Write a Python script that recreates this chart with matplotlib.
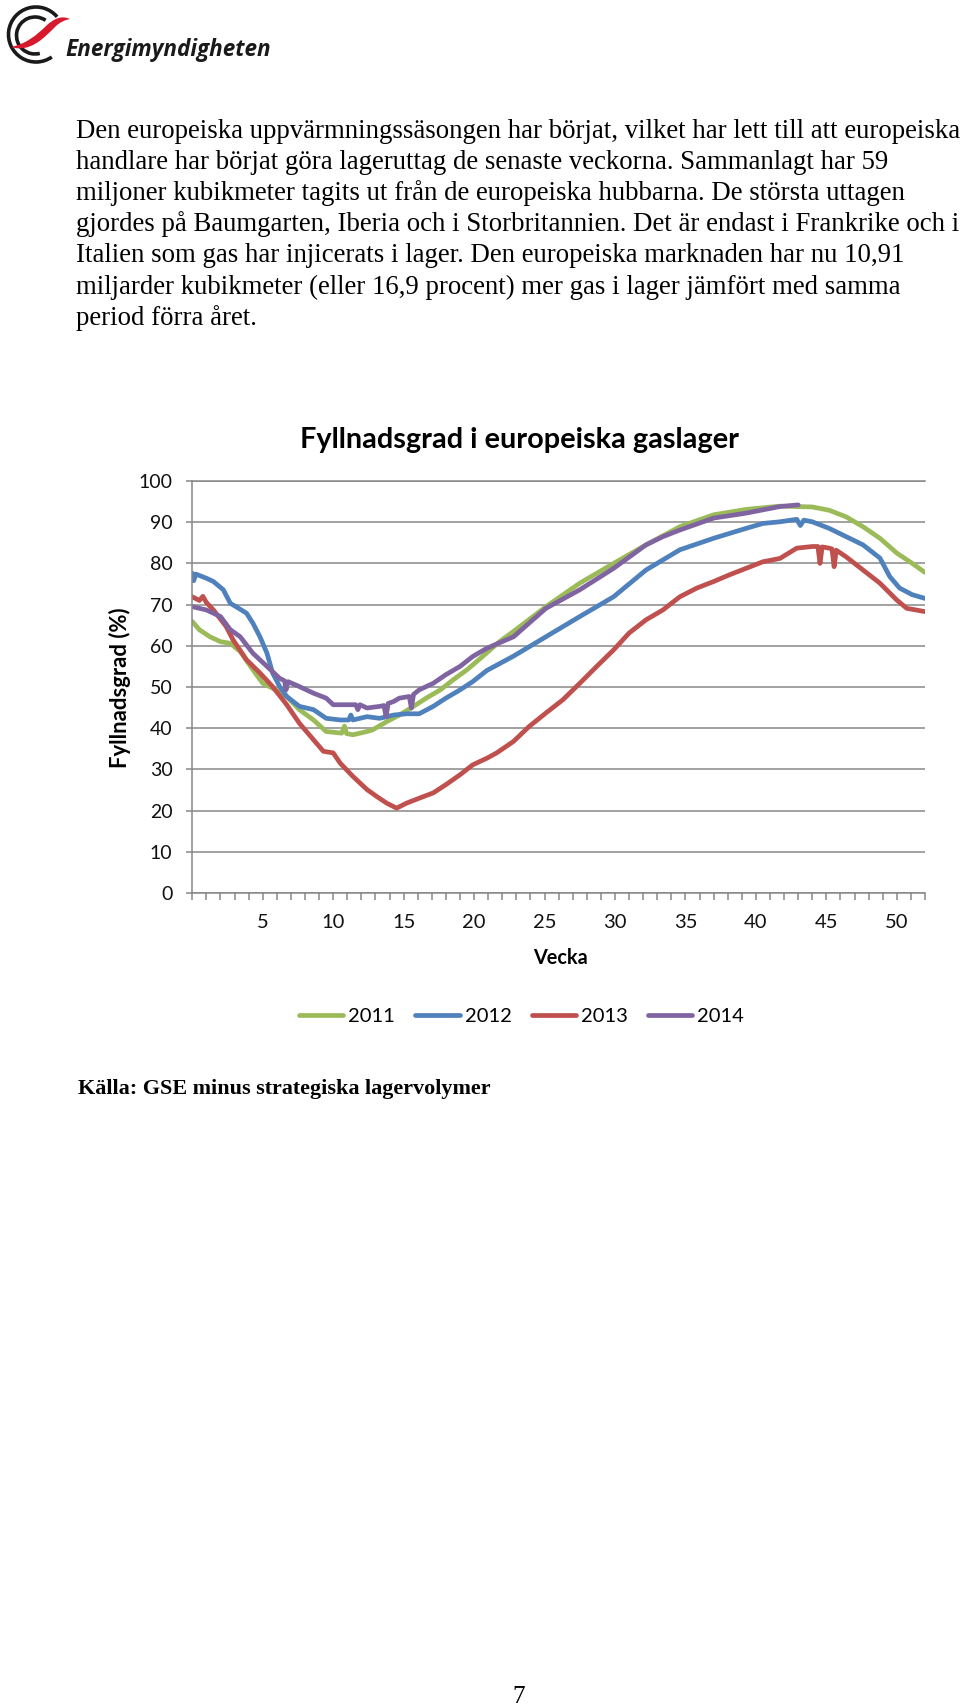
import numpy as np
import matplotlib as mpl
mpl.use('Agg')
from matplotlib import pyplot as plt
from matplotlib.path import Path
from matplotlib.patches import Arc, PathPatch

# --- data (week, fill level %) ---
w2011 = [0, 0.5, 1.25, 2.0, 2.7, 3.4, 4.3, 5.0, 5.7, 6.7, 7.6, 8.6, 9.5, 10.6, 10.8, 10.95, 11.4,
         12.4, 12.8, 13.8, 14.7, 15.7, 16.6, 17.6, 18.5, 19.5, 20.6, 21.8, 22.8, 25.1, 27.5, 29.9,
         32.2, 34.6, 37.0, 39.3, 41.7, 44.0, 45.2, 46.4, 47.6, 48.8, 50.0, 51.1, 52.0]
v2011 = [65.9, 63.9, 62.2, 61.0, 60.6, 58.6, 54.2, 50.9, 49.7, 47.7, 44.5, 42.0, 39.2, 38.8, 40.5, 38.7, 38.4,
         39.2, 39.6, 41.6, 43.2, 45.3, 47.3, 49.3, 51.7, 54.2, 57.4, 61.0, 63.5, 69.5, 75.2, 80.0,
         84.5, 88.9, 91.8, 93.1, 93.9, 93.7, 92.9, 91.3, 88.9, 86.1, 82.5, 80.0, 77.8]

w2012 = [0, 0.1, 0.25, 1.0, 1.5, 2.2, 2.7, 3.1, 3.85, 4.3, 4.8, 5.3, 5.7, 6.2, 6.7, 7.6, 8.6, 9.5,
         10.5, 11.1, 11.25, 11.4, 12.4, 13.3, 14.3, 15.2, 16.1, 17.1, 18.0, 19.0, 19.9, 20.9, 22.8,
         25.1, 27.5, 29.9, 32.2, 34.6, 37.0, 39.3, 40.5, 41.7, 42.9, 43.15, 43.4, 44.0, 45.2, 46.4,
         47.6, 48.8, 49.5, 50.2, 51.1, 52.0]
v2012 = [77.6, 75.8, 77.4, 76.4, 75.6, 73.6, 70.3, 69.5, 67.9, 65.5, 62.2, 58.2, 53.4, 50.1, 47.7, 45.3, 44.5, 42.4,
         42.0, 42.0, 43.2, 42.0, 42.8, 42.4, 43.2, 43.5, 43.5, 45.3, 47.3, 49.3, 51.3, 54.0, 57.5,
         62.2, 67.1, 71.9, 78.4, 83.3, 86.1, 88.5, 89.7, 90.1, 90.7, 89.2, 90.5, 90.1, 88.5, 86.5,
         84.5, 81.3, 76.8, 74.0, 72.4, 71.5]

w2013 = [0, 0.5, 0.75, 1.0, 1.5, 2.4, 2.9, 3.85, 4.8, 5.7, 6.7, 7.6, 8.6, 9.3, 10.0, 10.5, 11.4,
         12.4, 13.1, 13.8, 14.5, 15.2, 16.1, 17.1, 18.0, 19.0, 19.9, 20.9, 21.6, 22.8, 23.9, 25.1,
         26.3, 27.5, 28.7, 29.9, 31.0, 32.2, 33.4, 34.6, 35.8, 37.0, 38.1, 39.3, 40.5, 41.7, 42.9,
         44.0, 44.4, 44.55, 44.7, 45.2, 45.4, 45.55, 45.7, 46.4, 47.6, 48.8, 50.0, 50.7, 52.0]
v2013 = [71.9, 71.0, 72.0, 70.5, 68.7, 64.7, 61.4, 56.6, 53.4, 50.1, 45.7, 41.2, 37.2, 34.4, 34.0, 31.5, 28.3,
         25.1, 23.4, 21.8, 20.6, 21.8, 23.0, 24.3, 26.3, 28.7, 31.1, 32.7, 34.0, 36.8, 40.4, 43.7,
         46.9, 50.9, 55.0, 59.0, 63.1, 66.3, 68.7, 71.9, 74.0, 75.6, 77.2, 78.8, 80.4, 81.2, 83.7,
         84.1, 84.1, 80.0, 84.0, 83.7, 83.5, 79.2, 83.2, 81.6, 78.4, 75.2, 71.1, 69.1, 68.3]

w2014 = [0, 1.0, 2.0, 2.7, 3.4, 4.3, 5.3, 6.2, 6.55, 6.65, 6.8, 7.6, 8.6, 9.5, 10.0, 10.9, 11.6,
         11.75, 11.9, 12.4, 13.3, 13.6, 13.75, 13.9, 14.3, 14.7, 15.4, 15.55, 15.7, 16.1, 17.1, 18.0,
         19.0, 19.9, 20.9, 22.8, 23.9, 25.1, 27.5, 29.9, 32.2, 33.4, 34.6, 37.0, 39.3, 41.7, 43.0]
v2014 = [69.5, 68.7, 67.1, 63.9, 62.2, 58.2, 55.0, 52.1, 51.5, 49.3, 51.3, 50.1, 48.5, 47.3, 45.7, 45.7, 45.7,
         44.5, 45.7, 44.9, 45.3, 45.5, 42.8, 46.0, 46.5, 47.3, 47.7, 44.9, 48.2, 49.3, 50.9, 53.0,
         55.0, 57.4, 59.4, 62.2, 65.5, 69.1, 73.6, 78.8, 84.5, 86.5, 88.1, 91.0, 92.2, 93.8, 94.2]

years = ['2011', '2012', '2013', '2014']
colors = ['#9BBB59', '#4F81BD', '#C0504D', '#8064A2']
week_ticks = list(range(5, 51, 5))

body = [
    "Den europeiska uppvärmningssäsongen har börjat, vilket har lett till att europeiska",
    "handlare har börjat göra lageruttag de senaste veckorna. Sammanlagt har 59",
    "miljoner kubikmeter tagits ut från de europeiska hubbarna. De största uttagen",
    "gjordes på Baumgarten, Iberia och i Storbritannien. Det är endast i Frankrike och i",
    "Italien som gas har injicerats i lager. Den europeiska marknaden har nu 10,91",
    "miljarder kubikmeter (eller 16,9 procent) mer gas i lager jämfört med samma",
    "period förra året.",
]

W, H = 960, 1705
fig = plt.figure(figsize=(W / 100, H / 100), dpi=100)
fig.canvas.draw()
rend = fig.canvas.get_renderer()

def fit(t, size, along='width'):
    bb = t.get_window_extent(rend)
    cur = bb.width if along == 'width' else bb.height
    t.set_fontsize(t.get_fontsize() * size / cur)

# page layer in pixel coords
page = fig.add_axes([0, 0, 1, 1])
page.set_xlim(0, W)
page.set_ylim(H, 0)
page.axis('off')

# logo
page.add_patch(Arc((36, 34.5), 55, 55, theta1=55, theta2=320, color='#1a1a1a', lw=2.6))
page.add_patch(Arc((35, 35.5), 37, 37, theta1=75, theta2=305, color='#1a1a1a', lw=2.6))
swoosh = Path([(11, 47), (30, 53), (44, 38), (55, 27), (60, 22), (65, 20), (70, 19),
               (61, 15), (54, 19), (47, 25), (37, 35), (26, 44), (11, 47)],
              [Path.MOVETO] + [Path.CURVE4] * 12)
page.add_patch(PathPatch(swoosh, fc='#D7192D', ec='none'))
logo = page.text(65, 56, 'Energimyndigheten', fontsize=18, family='Open Sans',
                 style='italic', weight='bold', color='#1a1a1a', va='baseline')
fit(logo, 206)

# body text
serif = 'Liberation Serif'
first = page.text(76, 138, body[0], family=serif, fontsize=17, va='baseline')
fit(first, 882)
fs = first.get_fontsize()
for i, line in enumerate(body[1:], start=1):
    page.text(76, 138 + i * 31.1, line, family=serif, fontsize=fs, va='baseline')

src = page.text(78, 1094, 'Källa: GSE minus strategiska lagervolymer', family=serif,
                weight='bold', fontsize=15, va='baseline')
fit(src, 412)
page.text(519, 1703, '7', family=serif, fontsize=fs * 0.95, ha='center', va='baseline')

# chart
sans = 'Lato'
gray = '#878787'
ax = fig.add_axes([192.3 / W, 1 - 893 / H, (925 - 192.3) / W, (893 - 481) / H])
series = [(w2011, v2011), (w2012, v2012), (w2013, v2013), (w2014, v2014)]
handles = []
for (wk, val), yr, c in zip(series, years, colors):
    h, = ax.plot(wk, val, color=c, lw=3.4, label=yr, solid_joinstyle='round',
                 solid_capstyle='round')
    handles.append(h)

ax.set_xlim(0, 52)
ax.set_ylim(0, 100)
ax.set_yticks(range(0, 101, 10))
ax.set_xticks(week_ticks)
ax.set_xticks(range(0, 53), minor=True)
ax.yaxis.grid(True, color=gray, lw=1.1)
ax.set_axisbelow(True)
for s in ['left', 'bottom', 'top']:
    ax.spines[s].set_color(gray)
    ax.spines[s].set_linewidth(1.1)
ax.spines['right'].set_visible(False)
ax.tick_params(axis='y', length=4.3, width=1.1, color=gray, pad=10, labelsize=14)
ax.tick_params(axis='x', which='both', length=5, width=1.1, color=gray)
ax.tick_params(axis='x', which='major', pad=10, labelsize=14.5)
for lab in ax.get_xticklabels() + ax.get_yticklabels():
    lab.set_family(sans)
    lab.set_color('#111111')

ylab = page.text(120, 688, 'Fyllnadsgrad (%)', family=sans, weight='bold', fontsize=15,
                 rotation=90, ha='center', va='center')
fit(ylab, 161, along='height')
xlab = page.text(560, 958, 'Vecka', family=sans, weight='bold', fontsize=15,
                 ha='center', va='center')
fit(xlab, 55)
title = page.text(519, 448, 'Fyllnadsgrad i europeiska gaslager', family=sans,
                  weight='bold', fontsize=20, ha='center', va='baseline')
fit(title, 439)

fig.legend(handles=handles, labels=years, loc='center', ncol=4, frameon=False,
           bbox_to_anchor=(521.7 / W, 1 - 1016.7 / H), prop={'family': sans, 'size': 14.5},
           handlelength=2.2, handletextpad=0.25, columnspacing=1.0)

fig.savefig('out.png', dpi=100)
